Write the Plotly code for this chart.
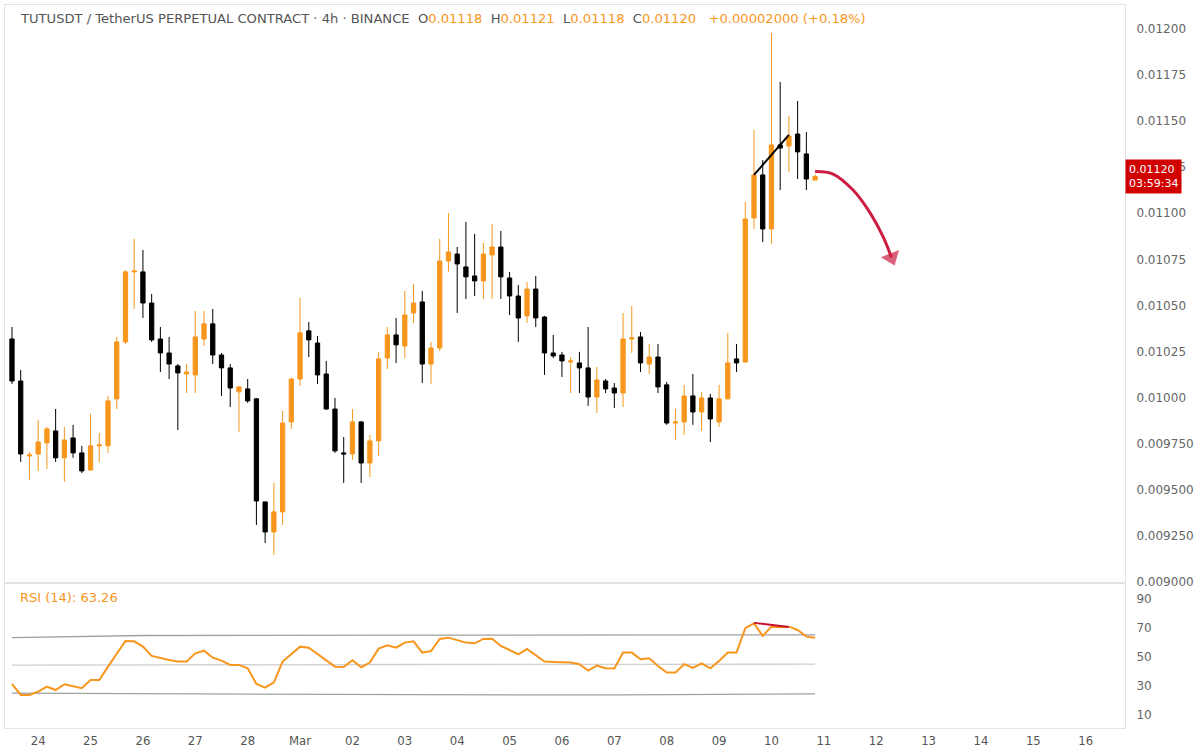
import pandas as pd
import plotly.graph_objects as go
from plotly.subplots import make_subplots

# ---------------- data ----------------
opens = [0.010318, 0.010090, 0.009683, 0.009694, 0.009754, 0.009819, 0.009673, 0.009781, 0.009700, 0.009607,
         0.009738, 0.009738, 0.009993, 0.010302, 0.010682, 0.010682, 0.010513, 0.010318, 0.010242, 0.010172,
         0.010128, 0.010123, 0.010318, 0.010400, 0.010231, 0.010161, 0.010031, 0.010047, 0.009993, 0.009434,
         0.009271, 0.009380, 0.009868, 0.010101, 0.010362, 0.010296, 0.010128, 0.009938, 0.009700, 0.009694,
         0.009868, 0.009645, 0.009765, 0.010215, 0.010340, 0.010280, 0.010459, 0.010519, 0.010182, 0.010269,
         0.010741, 0.010779, 0.010709, 0.010660, 0.010633, 0.010774, 0.010817, 0.010649, 0.010551, 0.010443,
         0.010589, 0.010437, 0.010242, 0.010231, 0.010193, 0.010188, 0.010161, 0.010003, 0.010090, 0.010052,
         0.010025, 0.010318, 0.010329, 0.010182, 0.010220, 0.010069, 0.009862, 0.009868, 0.010009, 0.009922,
         0.009998, 0.009868, 0.009993, 0.010210, 0.010193, 0.010975, 0.011208, 0.010915, 0.011371, 0.011365,
         0.011430, 0.011322, 0.011180]
highs = [0.010383, 0.010150, 0.009705, 0.009879, 0.009841, 0.009938, 0.009841, 0.009852, 0.009738, 0.009911,
         0.009808, 0.010009, 0.010329, 0.010692, 0.010861, 0.010801, 0.010562, 0.010383, 0.010329, 0.010182,
         0.010182, 0.010470, 0.010470, 0.010481, 0.010242, 0.010182, 0.010063, 0.010101, 0.009998, 0.009434,
         0.009537, 0.009928, 0.010106, 0.010541, 0.010410, 0.010334, 0.010199, 0.009998, 0.009786, 0.009938,
         0.009873, 0.009797, 0.010248, 0.010383, 0.010432, 0.010579, 0.010617, 0.010579, 0.010302, 0.010861,
         0.011002, 0.010817, 0.010953, 0.010888, 0.010839, 0.010942, 0.010904, 0.010682, 0.010611, 0.010627,
         0.010660, 0.010443, 0.010340, 0.010248, 0.010220, 0.010248, 0.010383, 0.010166, 0.010101, 0.010079,
         0.010459, 0.010497, 0.010356, 0.010291, 0.010291, 0.010085, 0.009938, 0.010069, 0.010128, 0.010031,
         0.010020, 0.010069, 0.010351, 0.010291, 0.011061, 0.011452, 0.011289, 0.011978, 0.011712, 0.011528,
         0.011609, 0.011441, 0.011210]
lows = [0.010074, 0.009651, 0.009553, 0.009602, 0.009613, 0.009651, 0.009542, 0.009673, 0.009591, 0.009602,
        0.009651, 0.009700, 0.009938, 0.010291, 0.010481, 0.010432, 0.010302, 0.010139, 0.010101, 0.009824,
        0.010025, 0.010025, 0.010280, 0.010182, 0.010009, 0.009949, 0.009814, 0.009971, 0.009309, 0.009211,
        0.009146, 0.009309, 0.009830, 0.010063, 0.010220, 0.010074, 0.009933, 0.009700, 0.009537, 0.009662,
        0.009537, 0.009569, 0.009683, 0.010155, 0.010188, 0.010215, 0.010405, 0.010079, 0.010074, 0.010253,
        0.010682, 0.010459, 0.010535, 0.010551, 0.010535, 0.010535, 0.010535, 0.010448, 0.010302, 0.010405,
        0.010383, 0.010123, 0.010215, 0.010112, 0.010025, 0.010025, 0.009955, 0.009917, 0.010025, 0.009944,
        0.009949, 0.010242, 0.010139, 0.010128, 0.010025, 0.009852, 0.009770, 0.009797, 0.009852, 0.009819,
        0.009759, 0.009841, 0.009990, 0.010139, 0.010190, 0.010915, 0.010844, 0.010834, 0.011126, 0.011224,
        0.011186, 0.011126, 0.011180]
closes = [0.010090, 0.009694, 0.009689, 0.009759, 0.009830, 0.009673, 0.009770, 0.009700, 0.009602, 0.009738,
          0.009743, 0.009982, 0.010302, 0.010682, 0.010687, 0.010513, 0.010313, 0.010242, 0.010182, 0.010134,
          0.010139, 0.010329, 0.010400, 0.010231, 0.010161, 0.010052, 0.010058, 0.009982, 0.009439, 0.009271,
          0.009380, 0.009862, 0.010101, 0.010351, 0.010313, 0.010123, 0.009938, 0.009711, 0.009694, 0.009868,
          0.009645, 0.009765, 0.010210, 0.010340, 0.010286, 0.010448, 0.010513, 0.010182, 0.010269, 0.010741,
          0.010790, 0.010725, 0.010655, 0.010633, 0.010779, 0.010817, 0.010655, 0.010551, 0.010432, 0.010589,
          0.010432, 0.010242, 0.010226, 0.010199, 0.010199, 0.010161, 0.010003, 0.010096, 0.010047, 0.010025,
          0.010318, 0.010324, 0.010188, 0.010220, 0.010058, 0.009862, 0.009868, 0.010009, 0.009922, 0.009998,
          0.009884, 0.009993, 0.010188, 0.010188, 0.010969, 0.011208, 0.010915, 0.011371, 0.011354, 0.011419,
          0.011333, 0.011186, 0.011200]
rsi = [31.4, 23.8, 23.8, 26.1, 29.5, 27.2, 31.2, 30.0, 28.4, 34.1,
       34.1, 43.3, 52.5, 61.0, 60.8, 57.1, 50.7, 49.1, 47.9, 46.8,
       46.8, 52.5, 54.3, 49.5, 47.5, 44.5, 44.5, 42.2, 31.4, 28.8,
       32.5, 46.8, 52.1, 57.1, 56.4, 52.1, 47.9, 43.3, 43.1, 47.7,
       42.9, 46.1, 55.7, 58.1, 56.4, 59.9, 60.8, 53.0, 54.1, 62.4,
       63.3, 61.7, 59.9, 59.4, 62.4, 62.6, 57.6, 54.8, 51.8, 55.5,
       50.9, 46.8, 46.6, 46.1, 46.1, 45.0, 40.6, 44.0, 42.2, 42.0,
       53.0, 53.0, 48.4, 49.1, 43.8, 39.2, 39.2, 45.0, 42.4, 45.6,
       42.2, 47.2, 53.0, 53.0, 69.8, 73.2, 64.5, 70.9, 70.5, 70.9,
       68.6, 64.0, 63.26]
# RSI band lines (sampled at candle indices)
band_idx = [0, 15, 46, 70, 92]
band_upper = [63.3, 64.8, 65.0, 65.1, 65.2]
band_mid = [44.3, 44.6, 44.8, 44.9, 45.0]
band_lower = [25.0, 24.6, 24.0, 23.8, 24.5]

price_ticks = [0.009, 0.00925, 0.0095, 0.00975, 0.010, 0.01025, 0.0105, 0.01075,
               0.011, 0.01125, 0.0115, 0.01175, 0.012]
price_tick_text = ["0.009000", "0.009250", "0.009500", "0.009750", "0.01000", "0.01025",
                   "0.01050", "0.01075", "0.01100", "0.01125", "0.01150", "0.01175", "0.01200"]
rsi_ticks = [10, 30, 50, 70, 90]
day_labels = ["24", "25", "26", "27", "28", "Mar", "02", "03", "04", "05", "06", "07",
              "08", "09", "10", "11", "12", "13", "14", "15", "16"]

# drawings on the chart
trend_idx = [85, 89]
trend_price = [0.011208, 0.011425]
rsi_trend = [73.5, 70.6]
arrow_hours = [0, 8.2, 17.4, 25.2, 31.2, 35.0]
arrow_price = [0.011226, 0.011213, 0.011126, 0.011002, 0.010872, 0.010760]

# ---------------- figure ----------------
ORANGE = "#f7961d"
start = pd.Timestamp("2025-02-23 12:00")
times = pd.date_range(start, periods=len(closes), freq="4h")
last = times[-1]

fig = make_subplots(rows=2, cols=1, shared_xaxes=True, vertical_spacing=0,
                    row_heights=[578 / 723, 145 / 723])

fig.add_trace(go.Candlestick(
    x=times, open=opens, high=highs, low=lows, close=closes,
    increasing=dict(line=dict(color=ORANGE, width=1), fillcolor=ORANGE),
    decreasing=dict(line=dict(color="#000000", width=1), fillcolor="#000000"),
    whiskerwidth=0, showlegend=False, hoverinfo="skip"), row=1, col=1)

fig.add_trace(go.Scatter(x=[times[i] for i in trend_idx], y=trend_price, mode="lines",
                         line=dict(color="#000000", width=2), showlegend=False, hoverinfo="skip"),
              row=1, col=1)

arrow_x = [last + pd.Timedelta(hours=h) for h in arrow_hours]
fig.add_trace(go.Scatter(x=arrow_x, y=arrow_price, mode="lines+markers",
                         line=dict(color="#cc1d42", width=3, shape="spline"),
                         marker=dict(symbol="triangle-up", size=[0] * (len(arrow_x) - 1) + [17],
                                     angleref="previous", color="#cc1d42", line=dict(width=0)),
                         showlegend=False, hoverinfo="skip"), row=1, col=1)

band_x = [times[i] for i in band_idx]
fig.add_trace(go.Scatter(x=band_x, y=band_upper, mode="lines", line=dict(color="#a0a0a0", width=1.3),
                         showlegend=False, hoverinfo="skip"), row=2, col=1)
fig.add_trace(go.Scatter(x=band_x, y=band_mid, mode="lines", line=dict(color="#d0d0d0", width=1.3),
                         showlegend=False, hoverinfo="skip"), row=2, col=1)
fig.add_trace(go.Scatter(x=band_x, y=band_lower, mode="lines", line=dict(color="#a0a0a0", width=1.3),
                         showlegend=False, hoverinfo="skip"), row=2, col=1)
fig.add_trace(go.Scatter(x=times, y=rsi, mode="lines", line=dict(color=ORANGE, width=2),
                         showlegend=False, hoverinfo="skip"), row=2, col=1)
fig.add_trace(go.Scatter(x=[times[i] for i in trend_idx], y=rsi_trend, mode="lines",
                         line=dict(color="#c8102e", width=2), showlegend=False, hoverinfo="skip"),
              row=2, col=1)

x_range = [start - pd.Timedelta(hours=3.2), start + pd.Timedelta(hours=510)]
day_vals = pd.date_range("2025-02-24", periods=len(day_labels), freq="D")

FONT_AX = "DejaVu Sans"
FONT_X = "DejaVu Sans Condensed, DejaVu Sans"
border = "#e3e3e3"

fig.update_layout(
    width=1200, height=754,
    margin=dict(l=5, r=75, t=5, b=26),
    paper_bgcolor="white", plot_bgcolor="white",
    boxgap=0.3,
    font=dict(family=FONT_AX, size=12, color="#666666"),
)
fig.update_xaxes(range=x_range, showgrid=False, zeroline=False, showline=True, mirror=True,
                 linecolor=border, linewidth=1, rangeslider_visible=False)
fig.update_xaxes(showticklabels=False, row=1, col=1)
fig.update_xaxes(tickmode="array", tickvals=day_vals, ticktext=day_labels, ticks="",
                 tickfont=dict(family=FONT_X, size=13, color="#555555"), row=2, col=1)
fig.update_yaxes(side="right", showgrid=False, zeroline=False, showline=True, mirror=True,
                 linecolor=border, linewidth=1, ticks="", ticklabelstandoff=8)
fig.update_yaxes(range=[0.008994, 0.01213], tickmode="array", tickvals=price_ticks,
                 ticktext=price_tick_text, row=1, col=1)
fig.update_yaxes(range=[1.0, 101.0], tickmode="array", tickvals=rsi_ticks, row=2, col=1)

title_html = ("<span style='color:#555555'>TUTUSDT / TetherUS PERPETUAL CONTRACT · 4h · BINANCE&nbsp;&nbsp;O</span>"
              f"<span style='color:{ORANGE}'>0.01118</span>"
              "<span style='color:#555555'>&nbsp;&nbsp;H</span>"
              f"<span style='color:{ORANGE}'>0.01121</span>"
              "<span style='color:#555555'>&nbsp;&nbsp;L</span>"
              f"<span style='color:{ORANGE}'>0.01118</span>"
              "<span style='color:#555555'>&nbsp;&nbsp;C</span>"
              f"<span style='color:{ORANGE}'>0.01120&nbsp;&nbsp;&nbsp;+0.00002000 (+0.18%)</span>")
fig.add_annotation(text=title_html, xref="paper", yref="paper", x=13 / 1120, y=1 - 13 / 723,
                   xanchor="left", yanchor="middle", showarrow=False,
                   font=dict(family=FONT_AX, size=13.1))
fig.add_annotation(text="RSI (14): 63.26", xref="paper", yref="paper", x=13 / 1120, y=1 - 592 / 723,
                   xanchor="left", yanchor="middle", showarrow=False,
                   font=dict(family=FONT_AX, size=13, color=ORANGE))
fig.add_annotation(text="0.01120<br>03:59:34", xref="paper", yref="y", x=1.0, y=closes[-1],
                   xanchor="left", yanchor="middle", showarrow=False, align="left",
                   bgcolor="#d10000", borderpad=3,
                   font=dict(family=FONT_AX, size=11, color="white"))

fig.write_html("out.html")
